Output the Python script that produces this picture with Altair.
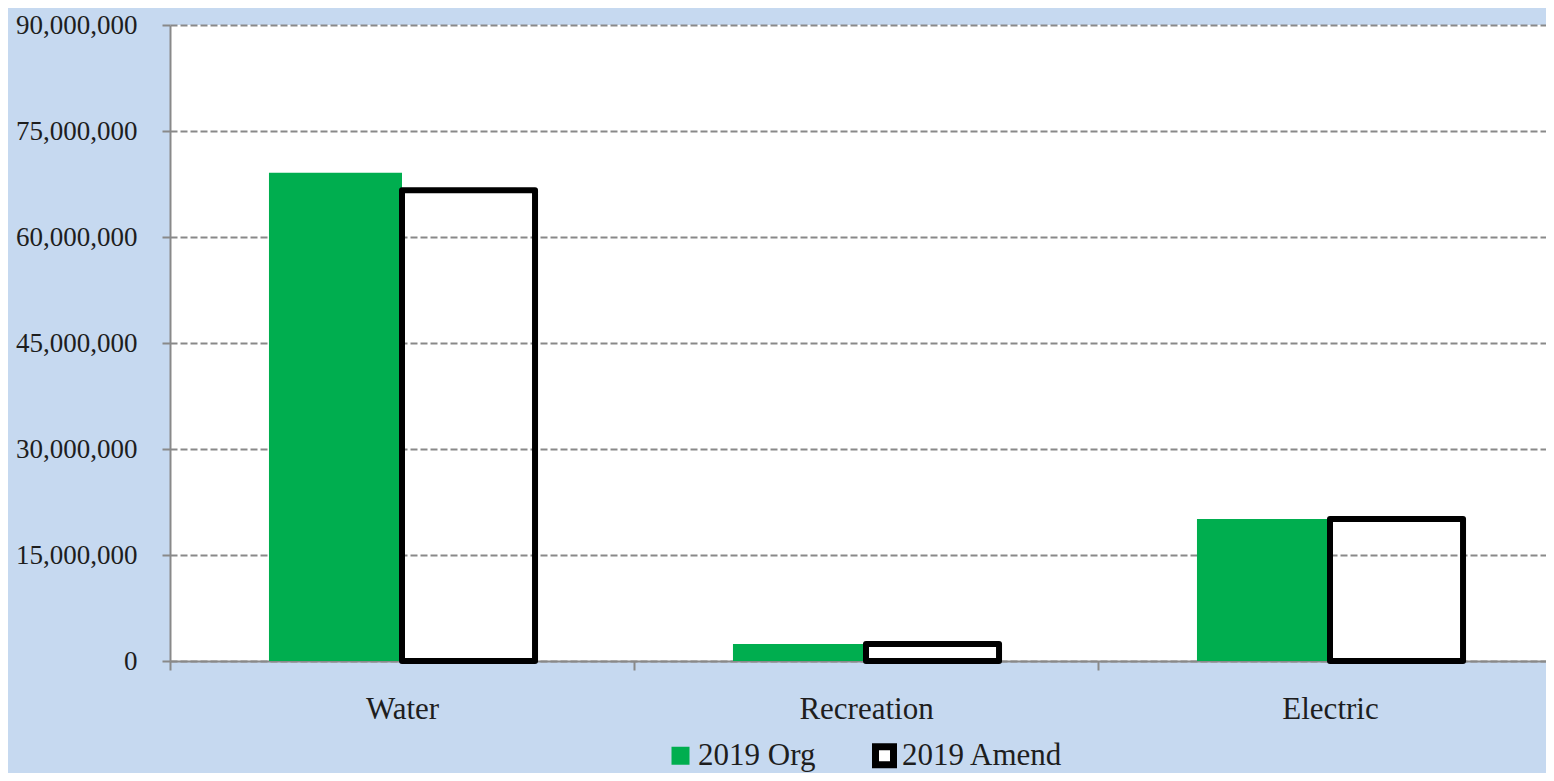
import altair as alt
import pandas as pd

categories = ["Water", "Recreation", "Electric"]
series_names = ["2019 Org", "2019 Amend"]
org_values = [69100000, 2400000, 20100000]
amend_values = [66600000, 2400000, 20100000]
y_ticks = [0, 15000000, 30000000, 45000000, 60000000, 75000000, 90000000]

rows = []
for c, o, a in zip(categories, org_values, amend_values):
    rows.append({"category": c, "series": series_names[0], "value": o})
    rows.append({"category": c, "series": series_names[1], "value": a})
df = pd.DataFrame(rows)

FONT = "Liberation Serif"
GREEN = "#00ae4f"
GRAY = "#898989"
TEXT = "#1e1e1e"

legend = alt.Legend(
    title=None, orient="none", legendX=495, legendY=715, direction="horizontal",
    symbolType="square", symbolSize=324, symbolStrokeWidth=7,
    labelFont=FONT, labelFontSize=31, labelColor=TEXT, labelOffset=2, labelLimit=400,
    columnPadding=45, padding=0,
)

chart = alt.Chart(df).mark_bar(strokeJoin="round").encode(
    x=alt.X("category:N", sort=categories, title=None,
            scale=alt.Scale(paddingInner=0, paddingOuter=0, range=[0, 1392]),
            axis=alt.Axis(labelAngle=0, tickBand="extent", ticks=True, tickSize=9,
                          tickColor=GRAY, tickWidth=2, domainColor=GRAY, domainWidth=2,
                          labelFont=FONT, labelFontSize=31, labelColor=TEXT,
                          labelBaseline="alphabetic", labelPadding=48, grid=False)),
    xOffset=alt.XOffset("series:N", sort=series_names,
                        scale=alt.Scale(domain=series_names, paddingInner=0, paddingOuter=0.744)),
    y=alt.Y("value:Q", title=None,
            scale=alt.Scale(domain=[0, 90000000], nice=False, zero=True),
            axis=alt.Axis(values=y_ticks, format=",.0f", tickSize=8, tickColor=GRAY, tickWidth=2,
                          domainColor=GRAY, domainWidth=2, labelFont=FONT, labelFontSize=27,
                          labelColor=TEXT, labelPadding=25, grid=True, gridColor=GRAY,
                          gridWidth=2, gridDash=[7, 3])),
    fill=alt.Fill("series:N", scale=alt.Scale(domain=series_names, range=[GREEN, "white"]), legend=legend),
    stroke=alt.Stroke("series:N", scale=alt.Scale(domain=series_names, range=["transparent", "black"]), legend=legend),
    strokeWidth=alt.condition(alt.datum.series == "2019 Amend", alt.value(6), alt.value(0)),
    fillOpacity=alt.condition(alt.datum.series == "2019 Amend", alt.value(0), alt.value(1)),
).properties(
    width=1376, height=636,
    background="#c6d9f0",
    padding={"left": 162, "top": 17, "right": 0, "bottom": 112},
    autosize=alt.AutoSizeParams(type="none"),
).configure_view(fill="white", stroke=None)

chart.save("out.html", embed_options={"renderer": "svg", "actions": False})
